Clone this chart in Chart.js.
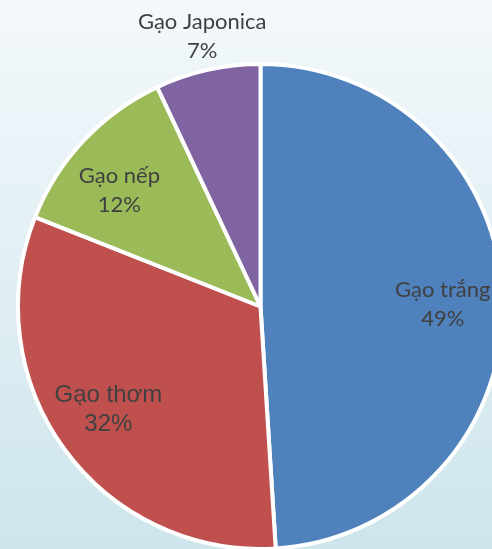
<!DOCTYPE html>
<html>
<head>
<meta charset="utf-8">
<script src="https://cdn.jsdelivr.net/npm/chart.js@4/dist/chart.umd.min.js"></script>
<style>
  html, body { margin: 0; padding: 0; }
  body {
    width: 492px; height: 549px; overflow: hidden; position: relative;
    background: linear-gradient(to bottom, #f3f8fb 0%, #e3f0f5 45%, #cde5ec 100%);
  }
  #wrap { position: absolute; left: 0; top: 0; width: 521px; height: 560px; }
</style>
</head>
<body>
<div id="wrap"><canvas id="pie"></canvas></div>
<script>
// Rice types and their share of the total (%)
const categories = ['Gạo trắng', 'Gạo thơm', 'Gạo nếp', 'Gạo Japonica'];
const shares = [49, 32, 12, 7];
const sliceColors = ['#4f81bd', '#c0504d', '#9bbb59', '#8064a2'];

// Label placement per slice: distance from centre (fraction of radius) and a small pixel nudge
const labelStyle = [
  { k: 0.75, dx: 0.5,  dy: 3,  font: '22px Lato' },
  { k: 0.75, dx: -5,   dy: -5, font: '24px "Liberation Sans", Arial, sans-serif' },
  { k: 0.75, dx: -8.5, dy: 8,  font: '22px Lato' },
  { k: 1.14, dx: 2,    dy: -1, font: '22px Lato' }
];

const sliceLabels = {
  id: 'sliceLabels',
  afterDatasetsDraw(chart) {
    const ctx = chart.ctx;
    const meta = chart.getDatasetMeta(0);
    const total = shares.reduce((a, b) => a + b, 0);
    ctx.save();
    ctx.fillStyle = '#404040';
    ctx.textAlign = 'center';
    ctx.textBaseline = 'alphabetic';
    meta.data.forEach((arc, i) => {
      const p = arc.getProps(['x', 'y', 'startAngle', 'endAngle', 'outerRadius'], true);
      const mid = (p.startAngle + p.endAngle) / 2;
      const s = labelStyle[i];
      const ax = p.x + Math.cos(mid) * p.outerRadius * s.k + s.dx;
      const ay = p.y + Math.sin(mid) * p.outerRadius * s.k + s.dy;
      ctx.font = s.font;
      ctx.fillText(categories[i], ax, ay - 6.5);
      ctx.fillText(Math.round(shares[i] / total * 100) + '%', ax, ay + 22.5);
    });
    ctx.restore();
  }
};

new Chart(document.getElementById('pie'), {
  type: 'pie',
  data: {
    labels: categories,
    datasets: [{
      data: shares,
      backgroundColor: sliceColors,
      borderColor: '#ffffff',
      borderWidth: 4,
      hoverOffset: 0,
      hoverBorderWidth: 4
    }]
  },
  options: {
    responsive: true,
    maintainAspectRatio: false,
    animation: false,
    events: [],
    layout: { padding: { top: 62, bottom: 9, left: 0, right: 0 } },
    plugins: {
      legend: { display: false },
      tooltip: { enabled: false }
    }
  },
  plugins: [sliceLabels]
});
</script>
</body>
</html>
